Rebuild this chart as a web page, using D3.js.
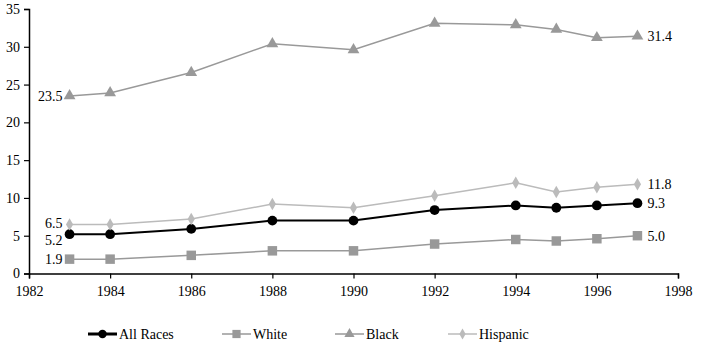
<!DOCTYPE html>
<html>
<head>
<meta charset="utf-8">
<script src="https://cdn.jsdelivr.net/npm/d3@7"></script>
<style>
  body { margin: 0; background: #fff; }
  svg text { font-family: "Liberation Serif", "Times New Roman", "DejaVu Serif", serif !important; }
</style>
</head>
<body>
<div id="chart"></div>
<script>
// data
var years = [1983, 1984, 1986, 1988, 1990, 1992, 1994, 1995, 1996, 1997];
var allRaces = [5.2, 5.2, 5.9, 7.0, 7.0, 8.4, 9.0, 8.7, 9.0, 9.3];
var white = [1.9, 1.9, 2.4, 3.0, 3.0, 3.9, 4.5, 4.3, 4.6, 5.0];
var black = [23.5, 23.9, 26.6, 30.4, 29.6, 33.1, 32.9, 32.3, 31.2, 31.4];
var hispanic = [6.5, 6.5, 7.2, 9.2, 8.7, 10.3, 12.0, 10.8, 11.4, 11.8];
var xTicks = [1982, 1984, 1986, 1988, 1990, 1992, 1994, 1996, 1998];
var yTicks = [0, 5, 10, 15, 20, 25, 30, 35];

var svgWidth = 702, svgHeight = 353;
var fontSize = 14;

var svg = d3.select("#chart").append("svg")
   .attr("width", svgWidth)
   .attr("height", svgHeight)
   .attr("font-family", "Liberation Serif");

// scales
var x = d3.scaleLinear().domain([1982, 1998]).range([29, 678]);
var y = d3.scaleLinear().domain([0, 35]).range([273.5, 9]);

// axes
function styleAxis(g) {
  g.attr("font-family", null);
  g.select(".domain").attr("stroke-width", 1.5);
  g.selectAll(".tick line").attr("stroke-width", 1.2);
  g.selectAll("text").attr("font-size", fontSize).attr("fill", "#000");
}

svg.append("g")
   .attr("transform", "translate(0," + y(0) + ")")
   .call(d3.axisBottom(x).tickValues(xTicks).tickFormat(d3.format("")).tickSize(5).tickPadding(8))
   .call(styleAxis);

svg.append("g")
   .attr("transform", "translate(" + x(1982) + ",0)")
   .call(d3.axisLeft(y).tickValues(yTicks).tickSize(5).tickPadding(4))
   .call(styleAxis);

var series = [
  {name: "All Races", values: allRaces, color: "#000", width: 2, shape: d3.symbolCircle, size: 75, first: "5.2", last: "9.3", fdy: 6},
  {name: "White", values: white, color: "#999", width: 1.5, shape: d3.symbolSquare, size: 90, first: "1.9", last: "5.0", fdy: 0},
  {name: "Black", values: black, color: "#999", width: 1.5, shape: d3.symbolTriangle, size: 60, first: "23.5", last: "31.4", fdy: 0},
  {name: "Hispanic", values: hispanic, color: "#bbb", width: 1.5, shape: d3.symbolDiamond, size: 45, first: "6.5", last: "11.8", fdy: -1}
];

var line = d3.line()
   .x(function(d, i) { return x(years[i]); })
   .y(function(d) { return y(d); });

// draw lines and markers
series.forEach(function(s) {
  svg.append("path")
     .datum(s.values)
     .attr("fill", "none")
     .attr("stroke", s.color)
     .attr("stroke-width", s.width)
     .attr("d", line);

  svg.selectAll(null)
     .data(s.values)
     .enter()
     .append("path")
     .attr("d", d3.symbol().type(s.shape).size(s.size))
     .attr("transform", function(d, i) { return "translate(" + x(years[i]) + "," + y(d) + ")"; })
     .attr("fill", s.color);

  // start and end labels
  svg.append("text")
     .attr("x", x(years[0]) - 7)
     .attr("y", y(s.values[0]) + s.fdy)
     .attr("dy", "0.35em")
     .attr("text-anchor", "end")
     .attr("font-size", fontSize)
     .text(s.first);

  svg.append("text")
     .attr("x", x(years[years.length - 1]) + 10)
     .attr("y", y(s.values[s.values.length - 1]))
     .attr("dy", "0.35em")
     .attr("font-size", fontSize)
     .text(s.last);
});

// legend
var legendX = [88, 222, 335, 448];
series.forEach(function(s, i) {
  var lg = svg.append("g").attr("transform", "translate(" + legendX[i] + ",334)");
  lg.append("line")
    .attr("x1", 0).attr("x2", 29)
    .attr("stroke", s.color)
    .attr("stroke-width", s.width == 2 ? 3 : 1.5);
  lg.append("path")
    .attr("d", d3.symbol().type(s.shape).size(s.size * 0.75))
    .attr("transform", "translate(14.5,0)")
    .attr("fill", s.color);
  lg.append("text")
    .attr("x", 31)
    .attr("dy", "0.35em")
    .attr("font-size", fontSize)
    .text(s.name);
});
</script>
</body>
</html>
